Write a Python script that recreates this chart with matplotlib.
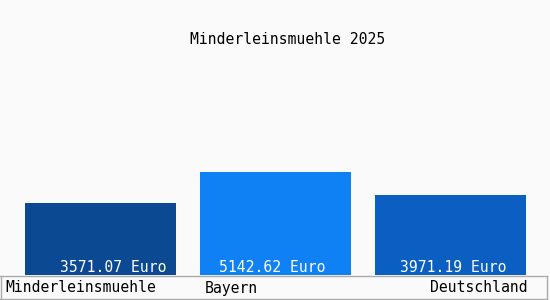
import matplotlib
matplotlib.use('Agg')
import matplotlib.pyplot as plt
from matplotlib.lines import Line2D

regions = ['Minderleinsmuehle', 'Bayern', 'Deutschland']
values = [3571.07, 5142.62, 3971.19]
colors = ['#0b4a93', '#1080f5', '#0b5fc3']
title = 'Minderleinsmuehle 2025'

W, H = 550, 300
fig = plt.figure(figsize=(W / 100, H / 100), dpi=100, facecolor='#fafafa')

# axes: baseline at y=275 px, bar pitch 175 px
base = 275
ax = fig.add_axes([0, (H - base) / H, 1, base / H])
ax.set_facecolor('#fafafa')
ax.set_xlim(-100.5 / 175, (W - 100.5) / 175)
ax.set_ylim(0, max(values) * base / 103)
ax.axis('off')

xs = list(range(len(regions)))
ax.bar(xs, values, width=151 / 175, color=colors)

mono = 'DejaVu Sans Mono'
fs = 10.6
text_shift = [13, -3, 2.5]  # px
for x, v, dx in zip(xs, values, text_shift):
    ax.text(x + dx / 175, 3 / base * ax.get_ylim()[1], f'{v:.2f} Euro',
            ha='center', va='baseline', color='white', family=mono, fontsize=fs)

fig.text(288 / W, 1 - 40 / H, title, ha='center', va='center',
         family=mono, fontsize=fs, color='black')

# category labels under the baseline
ly = 1 - 288 / H
fig.text(5 / W, ly, regions[0], ha='left', va='center', family=mono, fontsize=fs)
fig.text(205 / W, ly, regions[1], ha='left', va='center', family=mono, fontsize=fs)
fig.text(528 / W, ly, regions[2], ha='right', va='center', family=mono, fontsize=fs)

# frame lines
gray = '#aaaaaa'
fig.add_artist(Line2D([0, 547 / W], [1 - 275.5 / H] * 2, color=gray, lw=1))
fig.add_artist(Line2D([0, 547 / W], [1 - 298.5 / H] * 2, color=gray, lw=1))
fig.add_artist(Line2D([0.5 / W] * 2, [1 - 298.5 / H, 1 - 275.5 / H], color=gray, lw=1))
fig.add_artist(Line2D([547 / W] * 2, [1 - 298.5 / H, 1 - 275.5 / H], color=gray, lw=1))

fig.savefig('out.png', dpi=100, facecolor=fig.get_facecolor())
